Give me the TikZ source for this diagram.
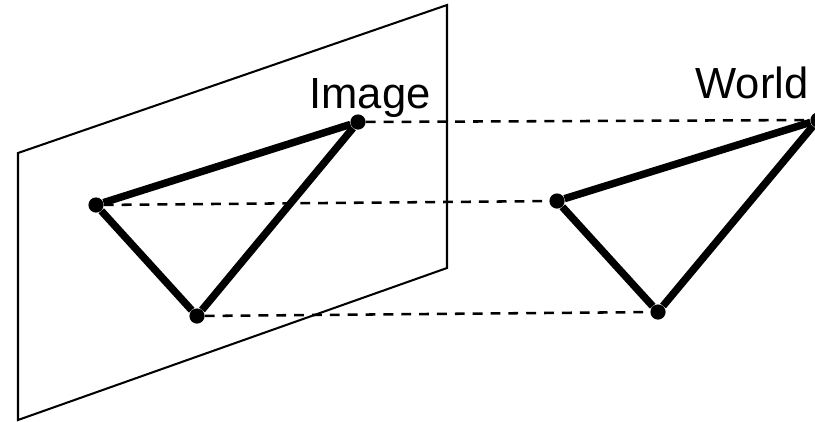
\documentclass[tikz,border=0pt]{standalone}
\usepackage{fontspec}
\setmainfont{Liberation Sans}
\usepackage{tikz}
\tikzset{
  corner/.style={circle,fill=black,inner sep=0pt,minimum size=0.38cm},
  edgeline/.style={black,line width=5.3pt},
  rayline/.style={black,line width=1.8pt,dash pattern=on 7pt off 5.7pt},
  label/.style={anchor=base,font=\fontsize{31}{31}\selectfont}
}
\begin{document}
\begin{tikzpicture}
\useasboundingbox (0cm,0cm) rectangle (20.375cm,-10.525cm);
\draw[black,line width=1.45pt] (0.45cm,-3.825cm) -- (11.175cm,-0.125cm) -- (11.175cm,-6.7cm) -- (0.45cm,-10.5cm) -- cycle;
\node[label] (image) at (9.25cm,-2.7cm) {Image};
\node[label] (world) at (18.8cm,-2.45cm) {World};
\node[corner] (a1) at (2.4cm,-5.125cm) {};
\node[corner] (b1) at (8.95cm,-3.05cm) {};
\node[corner] (c1) at (4.925cm,-7.9cm) {};
\node[corner] (a2) at (13.925cm,-5.025cm) {};
\node[corner] (b2) at (20.45cm,-3cm) {};
\node[corner] (c2) at (16.45cm,-7.8cm) {};
\draw[rayline] (a1) -- (a2);
\draw[rayline] (b1) -- (b2);
\draw[rayline] (c1) -- (c2);
\draw[edgeline] (a1) -- (b1);
\draw[edgeline] (b1) -- (c1);
\draw[edgeline] (c1) -- (a1);
\draw[edgeline] (a2) -- (b2);
\draw[edgeline] (b2) -- (c2);
\draw[edgeline] (c2) -- (a2);
\end{tikzpicture}
\end{document}
